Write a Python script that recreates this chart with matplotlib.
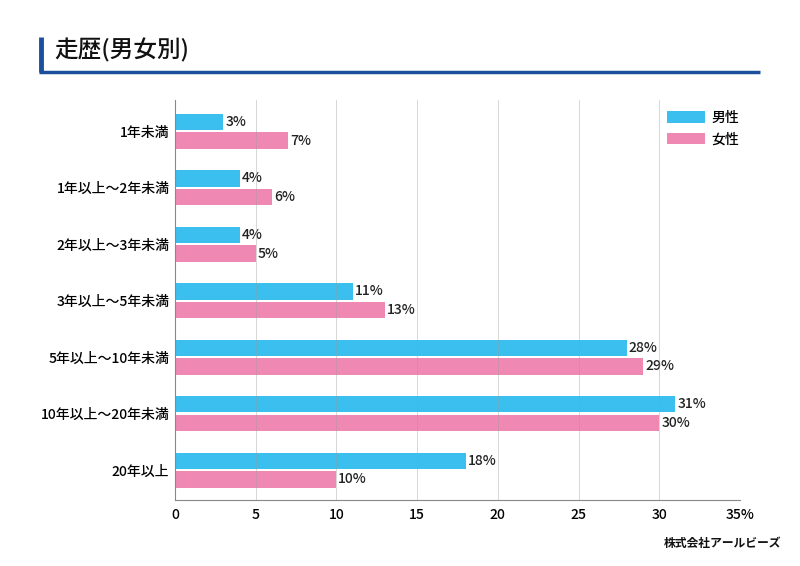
import matplotlib.pyplot as plt
import numpy as np

plt.rcParams['font.family'] = ['Noto Sans CJK JP', 'DejaVu Sans']

# データ
categories = ["1年未満", "1年以上～2年未満", "2年以上～3年未満", "3年以上～5年未満",
              "5年以上～10年未満", "10年以上～20年未満", "20年以上"]
male = [3, 4, 4, 11, 28, 31, 18]
female = [7, 6, 5, 13, 29, 30, 10]
xticks = [0, 5, 10, 15, 20, 25, 30, 35]
xtick_labels = ["0", "5", "10", "15", "20", "25", "30", "35%"]

c_male = "#3bbfee"
c_female = "#ef89b4"

fig = plt.figure(figsize=(8, 5.66), dpi=100)
ax = fig.add_axes([0.21875, 0.1166, 0.70625, 0.7064])

y = np.arange(len(categories))
h = 0.29
ax.barh(y - h / 2 - 0.02, male, height=h, color=c_male, label="男性", zorder=2)
ax.barh(y + h / 2 + 0.02, female, height=h, color=c_female, label="女性", zorder=2)

for i in range(len(categories)):
    ax.text(male[i] + 0.12, y[i] - h / 2 - 0.02, f"{male[i]}%", va="center", ha="left",
            fontsize=10, fontweight="medium", color="#222222")
    ax.text(female[i] + 0.12, y[i] + h / 2 + 0.02, f"{female[i]}%", va="center", ha="left",
            fontsize=10, fontweight="medium", color="#222222")

for xv in xticks[1:]:
    ax.axvline(xv, color="#999999", lw=0.6, alpha=0.45, zorder=3)

ax.set_xlim(0, 35)
ax.set_ylim(6.53, -0.55)
ax.set_yticks(y)
ax.set_yticklabels(categories, fontsize=10, fontweight="medium")
ax.set_xticks(xticks)
ax.set_xticklabels(xtick_labels, fontsize=10, fontweight="medium")
ax.tick_params(axis="both", length=0, pad=6)
ax.tick_params(axis="y", pad=4)

for s in ["top", "right"]:
    ax.spines[s].set_visible(False)
ax.spines["left"].set_color("#888888")
ax.spines["bottom"].set_color("#888888")
ax.spines["left"].set_linewidth(0.8)
ax.spines["bottom"].set_linewidth(0.8)

leg = ax.legend(loc="upper right", frameon=False, fontsize=10, handlelength=2.8, handleheight=0.9,
                bbox_to_anchor=(1.02, 1.005), handletextpad=0.4, labelspacing=0.55)
for t in leg.get_texts():
    t.set_fontweight("medium")

# タイトル
fig.text(0.068, 0.912, "走歴(男女別)", fontsize=17, fontweight="medium", va="center", ha="left", color="#111111")
fig.add_artist(plt.Line2D([0.051, 0.051], [0.873, 0.935], color="#1c4f9c", lw=3.5, solid_capstyle="butt"))
fig.add_artist(plt.Line2D([0.049, 0.95], [0.873, 0.873], color="#1c4f9c", lw=2.5, solid_capstyle="butt"))

fig.text(0.977, 0.04, "株式会社アールビーズ", fontsize=8.5, fontweight="bold", style="italic",
         ha="right", va="center", color="#111111")

fig.savefig("out.png", dpi=100)
